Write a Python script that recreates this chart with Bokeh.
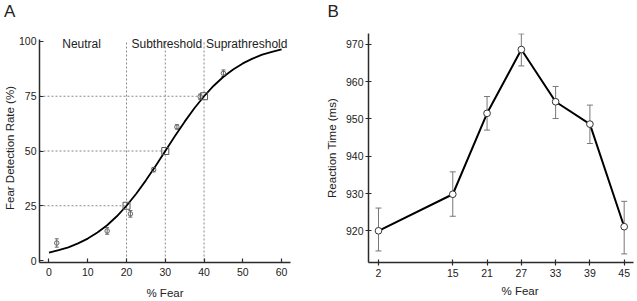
from bokeh.plotting import figure
from bokeh.layouts import row
from bokeh.models import Range1d, FixedTicker, Label, Whisker, TeeHead, ColumnDataSource, Title
from bokeh.embed import file_html
from bokeh.resources import INLINE
from bokeh.core.properties import value

FONT = "Liberation Sans"

# ---------------- Panel A data ----------------
a_fear = [2, 15, 21, 27, 33, 39, 45]
a_rate = [8.0, 13.5, 21.3, 41.5, 61.0, 74.8, 85.5]
a_err = [1.9, 1.5, 1.5, 1.0, 1.0, 1.2, 1.5]
a_thr_fear = [20, 30, 40]
a_thr_rate = [25, 50, 75]
a_curve_fear = [0, 2.5, 5, 7.5, 10, 12.5, 15, 17.5, 20, 22.5, 25, 27.5, 30,
                32.5, 35, 37.5, 40, 42.5, 45, 47.5, 50, 52.5, 55, 57.5, 60]
a_curve_rate = [3.6, 4.7, 6.0, 7.8, 10.0, 12.8, 16.1, 20.2, 25.0, 30.5, 36.6, 43.2, 50.0,
                56.8, 63.4, 69.5, 75.0, 79.8, 83.9, 87.2, 90.0, 92.2, 94.0, 95.3, 96.4]
a_regions = ["Neutral", "Subthreshold", "Suprathreshold"]
a_region_pos = [8.4, 30.4, 51.0]
a_xticks = [0, 10, 20, 30, 40, 50, 60]
a_yticks = [0, 25, 50, 75, 100]

# ---------------- Panel B data ----------------
b_fear = [2, 15, 21, 27, 33, 39, 45]
b_rt = [920.0, 929.8, 951.5, 968.6, 954.6, 948.6, 921.1]
b_lo = [914.6, 923.9, 947.0, 964.2, 950.1, 943.4, 913.8]
b_hi = [926.1, 935.8, 956.0, 972.8, 958.7, 953.7, 927.9]
b_xticks = [2, 15, 21, 27, 33, 39, 45]
b_yticks = [920, 930, 940, 950, 960, 970]

AX = "#2b2b2b"
TXT = "#222222"


def style(p, tin, tout):
    p.xgrid.visible = False
    p.ygrid.visible = False
    p.outline_line_color = None
    p.background_fill_color = "white"
    p.border_fill_color = "white"
    p.title.text = ""
    p.title.standoff = 0
    p.title.text_font_size = "1px"
    for ax in (p.xaxis[0], p.yaxis[0]):
        ax.axis_line_color = AX
        ax.axis_line_width = 1.5
        ax.major_tick_line_color = AX
        ax.major_tick_line_width = 1.2
        ax.major_tick_in = tin
        ax.major_tick_out = tout
        ax.minor_tick_line_color = None
        ax.major_label_text_font = FONT
        ax.major_label_text_font_size = "10.5px"
        ax.major_label_text_color = TXT
        ax.axis_label_text_font = FONT
        ax.axis_label_text_font_size = "11.5px"
        ax.axis_label_text_font_style = "normal"
        ax.axis_label_text_color = TXT


def letter(p, txt, dx, dy):
    # panel letter placed in the top border, relative to that border's lower-left corner
    p.add_layout(Label(x=dx, y=dy, x_units="screen", y_units="screen", text=txt,
                       text_align="left", text_baseline="alphabetic", text_font=FONT,
                       text_font_size="17px", text_color=TXT), "above")


# ---------------- Panel A ----------------
pa = figure(width=318, height=301, x_range=Range1d(-2.45, 62.3), y_range=Range1d(-0.91, 103.65),
            output_backend="svg", toolbar_location=None,
            min_border_left=38, min_border_right=28, min_border_top=33, min_border_bottom=39)
style(pa, 4, 0)
letter(pa, "A", -35.5, 22)
pa.xaxis.ticker = FixedTicker(ticks=a_xticks)
pa.yaxis.ticker = FixedTicker(ticks=a_yticks)
pa.yaxis.bounds = (-0.91, 100.9)
pa.xaxis.axis_label = "% Fear"
pa.yaxis.axis_label = "Fear Detection Rate (%)"
pa.xaxis.major_label_standoff = 5
pa.yaxis.major_label_standoff = 3
pa.xaxis.axis_label_standoff = 8
pa.yaxis.axis_label_standoff = 0

# dotted guide lines
x0 = pa.x_range.start
pa.segment(x0=[x0] * len(a_thr_fear), y0=a_thr_rate, x1=a_thr_fear, y1=a_thr_rate,
           line_color="#888888", line_dash="2 2", line_width=1)
pa.segment(x0=a_thr_fear, y0=[0] * len(a_thr_fear), x1=a_thr_fear, y1=[100] * len(a_thr_fear),
           line_color="#888888", line_dash="2 2", line_width=1)

pa.line(a_curve_fear, a_curve_rate, line_color="black", line_width=1.8)

src_a = ColumnDataSource(dict(x=a_fear, y=a_rate,
                              lo=[v - e for v, e in zip(a_rate, a_err)],
                              hi=[v + e for v, e in zip(a_rate, a_err)]))
wa = Whisker(source=src_a, base="x", lower="lo", upper="hi", line_color="#666666", line_width=1,
             upper_head=TeeHead(size=4, line_color="#666666", line_width=1),
             lower_head=TeeHead(size=4, line_color="#666666", line_width=1))
pa.add_layout(wa)
pa.scatter("x", "y", source=src_a, marker="circle", size=4.5, line_color="#666666",
           fill_color="white", fill_alpha=0.0, line_width=1)
pa.scatter(a_thr_fear, a_thr_rate, marker="square", size=7, line_color="#555555",
           fill_alpha=0.0, line_width=1)

for name, xp in zip(a_regions, a_region_pos):
    pa.add_layout(Label(x=xp, y=99.0, text=name, text_align="center", text_baseline="alphabetic",
                        text_font=FONT, text_font_size="12px", text_color=TXT))

# ---------------- Panel B ----------------
pb = figure(width=319, height=301, x_range=Range1d(0.25, 46.63), y_range=Range1d(911.5, 972.9),
            output_backend="svg", toolbar_location=None,
            min_border_left=50, min_border_right=4, min_border_top=33, min_border_bottom=39)
style(pb, 3, 3)
letter(pb, "B", -41, 22)
pb.xaxis.ticker = FixedTicker(ticks=b_xticks)
pb.yaxis.ticker = FixedTicker(ticks=b_yticks)
pb.yaxis.axis_label = "Reaction Time (ms)"
pb.xaxis.major_label_standoff = 3
pb.yaxis.major_label_standoff = 2
pb.yaxis.axis_label_standoff = 5

src_b = ColumnDataSource(dict(x=b_fear, y=b_rt, lo=b_lo, hi=b_hi))
wb = Whisker(source=src_b, base="x", lower="lo", upper="hi", line_color="#777777", line_width=1,
             upper_head=TeeHead(size=6, line_color="#777777", line_width=1),
             lower_head=TeeHead(size=6, line_color="#777777", line_width=1), level="underlay")
pb.add_layout(wb)
pb.line("x", "y", source=src_b, line_color="black", line_width=2)
pb.scatter("x", "y", source=src_b, marker="circle", size=6.7, line_color="#333333",
           fill_color="white", line_width=1)

xlab_b = Title(text="% Fear", align="left", offset=133, text_font=FONT, text_font_size="11.5px",
               text_font_style="normal", text_color=TXT, standoff=6)
pb.add_layout(xlab_b, "below")

layout = row(pa, pb)
open("out.html", "w").write(file_html(layout, INLINE))
